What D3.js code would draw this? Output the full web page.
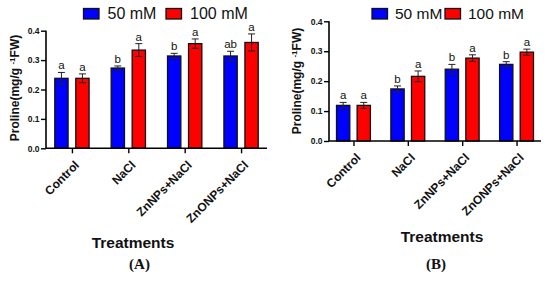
<!DOCTYPE html>
<html><head><meta charset="utf-8">
<script src="https://cdn.jsdelivr.net/npm/d3@7"></script>
<style>body{margin:0;background:#fff}svg{display:block}</style>
</head><body>
<svg id="c" width="548" height="281"></svg>
<script>
const categories = ["Control", "NaCl", "ZnNPs+NaCl", "ZnONPs+NaCl"];
const seriesNames = ["50 mM", "100 mM"];
const yTicks = [0.0, 0.1, 0.2, 0.3, 0.4];

const A_50 = [0.238, 0.273, 0.314, 0.314];
const A_50_err = [0.020, 0.007, 0.009, 0.016];
const A_100 = [0.238, 0.334, 0.356, 0.360];
const A_100_err = [0.015, 0.022, 0.016, 0.029];
const A_50_letters = ["a", "b", "b", "ab"];
const A_100_letters = ["a", "a", "a", "a"];

const B_50 = [0.119, 0.174, 0.240, 0.256];
const B_50_err = [0.010, 0.010, 0.016, 0.009];
const B_100 = [0.119, 0.216, 0.277, 0.297];
const B_100_err = [0.010, 0.018, 0.011, 0.010];
const B_50_letters = ["a", "b", "b", "b"];
const B_100_letters = ["a", "a", "a", "a"];

const colors = ["#0000ff", "#ff0000"];
const svg = d3.select("#c");

function panel(cfg) {
  const g = svg.append("g");
  const y = d3.scaleLinear().domain([0, 0.4]).range([cfg.y0, cfg.y4]);
  const x = d3.scalePoint().domain(categories).range([cfg.x0, cfg.x1]).padding(cfg.pad);
  const off = cfg.off, bw = cfg.bw;
  const series = [
    {vals: cfg.v50, err: cfg.e50, lett: cfg.l50, dx: -off, c: colors[0]},
    {vals: cfg.v100, err: cfg.e100, lett: cfg.l100, dx: off, c: colors[1]}
  ];
  series.forEach(s => {
    categories.forEach((cat, i) => {
      const cx = x(cat) + s.dx;
      const v = s.vals[i], e = s.err[i];
      g.append("rect").attr("x", cx - bw / 2).attr("y", y(v)).attr("width", bw)
        .attr("height", y(0) - y(v)).attr("fill", s.c).attr("stroke", "#111").attr("stroke-width", 1.3);
      g.append("line").attr("x1", cx).attr("x2", cx).attr("y1", y(v + e)).attr("y2", y(v - e))
        .attr("stroke", "#222").attr("stroke-width", 1);
      [v + e, v - e].forEach(t => g.append("line").attr("x1", cx - 3.5).attr("x2", cx + 3.5)
        .attr("y1", y(t)).attr("y2", y(t)).attr("stroke", "#222").attr("stroke-width", 1));
      g.append("text").attr("x", cx).attr("y", y(v + e) - 3).attr("text-anchor", "middle")
        .attr("font-family", "Liberation Sans, Arial, sans-serif").attr("font-size", 11.5)
        .attr("fill", "#111").text(s.lett[i]);
    });
  });
  // y axis
  const ya = g.append("g").attr("transform", `translate(${cfg.x0},0)`)
    .call(d3.axisLeft(y).tickValues(yTicks).tickFormat(d3.format(".1f")).tickSize(5).tickPadding(1.5));
  ya.select(".domain").attr("stroke-width", 1.6).attr("d", `M0,${cfg.y4}V${cfg.y0}`);
  ya.selectAll(".tick line").attr("stroke-width", 1.4);
  ya.selectAll("text").attr("font-family", "Liberation Sans, Arial, sans-serif")
    .attr("font-weight", "bold").attr("font-size", 8.5).attr("fill", "#111");
  // x axis
  const xa = g.append("g").attr("transform", `translate(0,${cfg.y0})`)
    .call(d3.axisBottom(x).tickSize(5).tickSizeOuter(0));
  xa.select(".domain").attr("stroke-width", 1.6).attr("d", `M${cfg.x0},0H${cfg.x1}`);
  xa.selectAll(".tick line").attr("stroke-width", 1.4);
  xa.selectAll("text").attr("font-family", "Liberation Sans, Arial, sans-serif")
    .attr("font-weight", "bold").attr("font-size", 12).attr("fill", "#111")
    .attr("text-anchor", "end").attr("dy", 0).attr("y", 0)
    .attr("transform", "translate(7.5,17.5) rotate(-45)");
  // y label
  const yl = g.append("text").attr("transform", `translate(${cfg.ylx},${cfg.yly}) rotate(-90)`)
    .attr("text-anchor", "middle").attr("font-family", "Liberation Sans, Arial, sans-serif")
    .attr("font-weight", "bold").attr("font-size", 12).attr("fill", "#111");
  yl.append("tspan").text("Proline(mg/g ");
  yl.append("tspan").attr("font-size", 8).attr("dy", -4).text("-1");
  yl.append("tspan").attr("dy", 4).text("FW)");
  // x label
  g.append("text").attr("x", cfg.txx).attr("y", cfg.txy).attr("text-anchor", "middle")
    .attr("font-family", "Liberation Sans, Arial, sans-serif").attr("font-weight", "bold")
    .attr("font-size", 15.5).attr("fill", "#111").text("Treatments");
  g.append("text").attr("x", cfg.px).attr("y", 269).attr("text-anchor", "middle")
    .attr("font-family", "Liberation Serif, Times New Roman, serif").attr("font-weight", "bold")
    .attr("font-size", 15).attr("fill", "#111").text(cfg.plabel);
  // legend
  cfg.leg.forEach((lx, i) => {
    g.append("rect").attr("x", lx).attr("y", 8.5).attr("width", 15.5).attr("height", 10.5)
      .attr("fill", colors[i]).attr("stroke", "#111").attr("stroke-width", 1.3);
    g.append("text").attr("x", lx + cfg.legTextDx).attr("y", 19)
      .attr("font-family", "Liberation Sans, Arial, sans-serif").attr("font-size", cfg.legFs)
      .attr("fill", "#111").text(seriesNames[i]);
  });
}

panel({x0: 46, x1: 267, pad: 0.46, y0: 148.3, y4: 30.7, off: 10.5, bw: 13.3,
  v50: A_50, e50: A_50_err, v100: A_100, e100: A_100_err, l50: A_50_letters, l100: A_100_letters,
  ylx: 19, yly: 88, txx: 133, txy: 248, px: 139.5, plabel: "(A)", leg: [83.5, 166], legTextDx: 24, legFs: 16});
panel({x0: 329, x1: 541, pad: 0.45, y0: 141, y4: 21.3, off: 10.3, bw: 13.3,
  v50: B_50, e50: B_50_err, v100: B_100, e100: B_100_err, l50: B_50_letters, l100: B_100_letters,
  ylx: 301, yly: 81, txx: 442, txy: 241.5, px: 436, plabel: "(B)", leg: [372, 445], legTextDx: 23, legFs: 15.5});
</script>
</body></html>
